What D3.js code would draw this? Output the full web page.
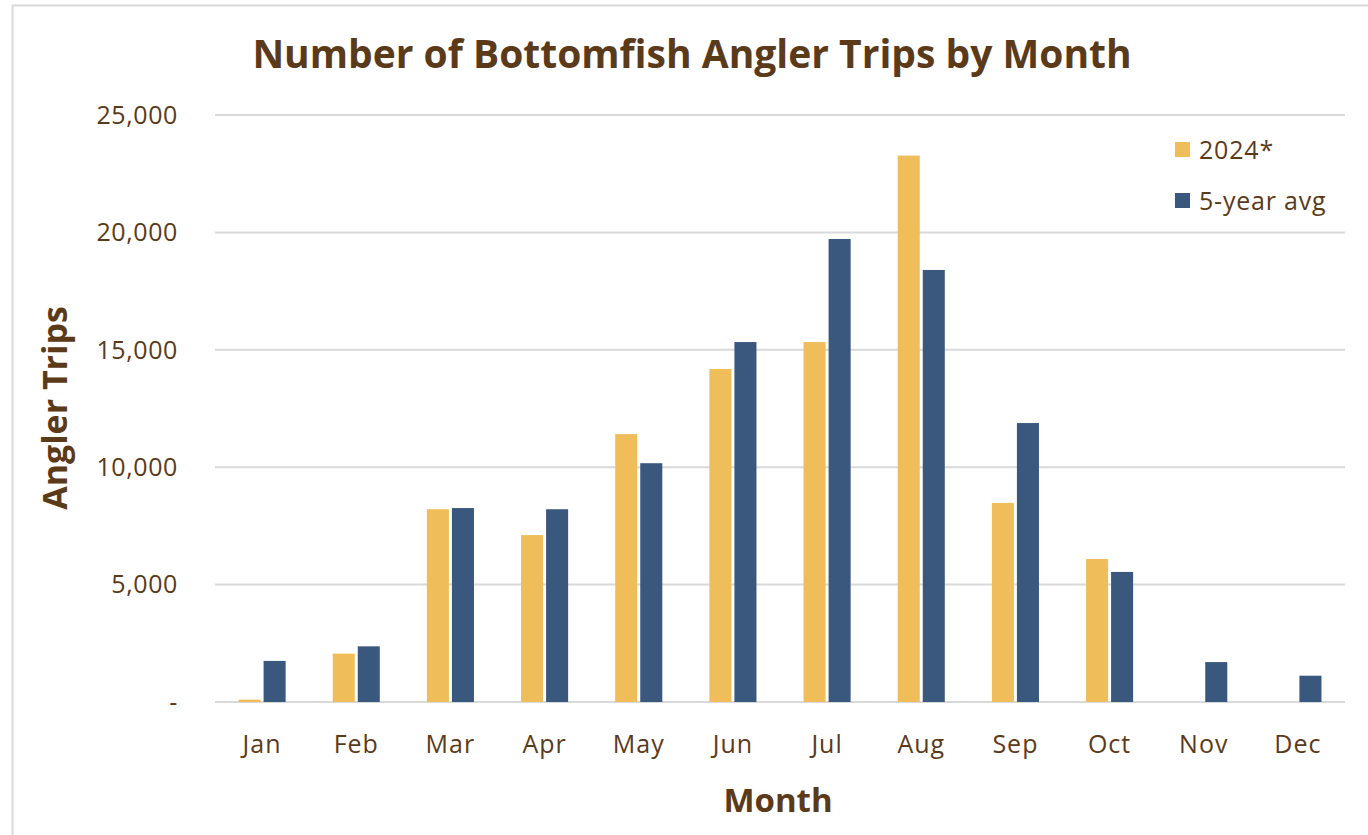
<!DOCTYPE html>
<html>
<head>
<meta charset="utf-8">
<script src="https://cdn.jsdelivr.net/npm/d3@7"></script>
<style>
  body { margin: 0; background: #fff; }
  svg { display: block; font-family: "Open Sans", "Noto Sans", sans-serif; }
</style>
</head>
<body>
<div id="chart"></div>
<script>
const months = ['Jan', 'Feb', 'Mar', 'Apr', 'May', 'Jun', 'Jul', 'Aug', 'Sep', 'Oct', 'Nov', 'Dec'];
const trips2024 = [100, 2060, 8210, 7110, 11410, 14180, 15330, 23270, 8480, 6090, 0, 0];
const tripsAvg = [1750, 2370, 8260, 8210, 10170, 15330, 19720, 18400, 11880, 5540, 1700, 1120];
const seriesNames = ['2024*', '5-year avg'];
const yTicks = [0, 5000, 10000, 15000, 20000, 25000];

const colors = ['#F0BD5B', '#3A577E'];
const textColor = '#5B3A1A';

const W = 1368, H = 835;
const margin = { top: 115, right: 23, bottom: 133, left: 215 };
const width = W - margin.left - margin.right;
const height = H - margin.top - margin.bottom;

const svg = d3.select('#chart').append('svg')
  .attr('width', W)
  .attr('height', H);

// chart frame
svg.append('rect')
  .attr('x', 12.5).attr('y', 5.5)
  .attr('width', W).attr('height', H)
  .attr('fill', 'none')
  .attr('stroke', '#d9d9d9')
  .attr('stroke-width', 2);

const g = svg.append('g')
  .attr('transform', `translate(${margin.left},${margin.top})`);

const x0 = d3.scaleBand().domain(months).range([0, width]).paddingInner(0.5).paddingOuter(0.25);
const x1 = d3.scaleBand().domain([0, 1]).range([0, x0.bandwidth()]).paddingInner(0.12);
const y = d3.scaleLinear().domain([0, 25000]).range([height, 0]);

// gridlines
g.selectAll('.grid')
  .data(yTicks)
  .enter().append('line')
  .attr('x1', 0).attr('x2', width)
  .attr('y1', d => y(d)).attr('y2', d => y(d))
  .attr('stroke', '#d9d9d9')
  .attr('stroke-width', 2);

// y tick labels
const fmt = d3.format(',');
g.selectAll('.ytick')
  .data(yTicks)
  .enter().append('text')
  .attr('x', -37)
  .attr('y', d => y(d))
  .attr('dy', '0.35em')
  .attr('text-anchor', 'end')
  .attr('fill', textColor)
  .style('font-size', '25px')
  .style('letter-spacing', '0.6px')
  .text(d => d === 0 ? '-' : fmt(d));

// x labels
g.selectAll('.xtick')
  .data(months)
  .enter().append('text')
  .attr('x', d => x0(d) + x0.bandwidth() / 2)
  .attr('y', height + 51)
  .attr('text-anchor', 'middle')
  .attr('fill', textColor)
  .style('font-size', '25px')
  .style('letter-spacing', '1px')
  .text(d => d);

// bars
const series = [trips2024, tripsAvg];
series.forEach((vals, si) => {
  g.selectAll('.bar' + si)
    .data(months.map((m, i) => ({ m, v: vals[i] })).filter(d => d.v > 0))
    .enter().append('rect')
    .attr('x', d => x0(d.m) + x1(si))
    .attr('y', d => y(d.v))
    .attr('width', x1.bandwidth())
    .attr('height', d => y(0) - y(d.v))
    .attr('fill', colors[si]);
});

// title
svg.append('text')
  .attr('x', 692)
  .attr('y', 68)
  .attr('text-anchor', 'middle')
  .attr('fill', textColor)
  .style('font-size', '39px')
  .style('font-weight', 'bold')
  .text('Number of Bottomfish Angler Trips by Month');

// axis titles
svg.append('text')
  .attr('transform', 'translate(67,408) rotate(-90)')
  .attr('text-anchor', 'middle')
  .attr('fill', textColor)
  .style('font-size', '34px')
  .style('font-weight', 'bold')
  .text('Angler Trips');

svg.append('text')
  .attr('x', 778)
  .attr('y', 812)
  .attr('text-anchor', 'middle')
  .attr('fill', textColor)
  .style('font-size', '33px')
  .style('font-weight', 'bold')
  .text('Month');

// legend
const legend = svg.append('g').attr('transform', 'translate(1175,142)');
seriesNames.forEach((name, i) => {
  const row = legend.append('g').attr('transform', `translate(0,${i * 51})`);
  row.append('rect')
    .attr('width', 15).attr('height', 15)
    .attr('fill', colors[i]);
  row.append('text')
    .attr('x', 24).attr('y', 8)
    .attr('dy', '0.35em')
    .attr('fill', textColor)
    .style('font-size', '25px')
    .style('letter-spacing', '0.8px')
    .text(name);
});
</script>
</body>
</html>
